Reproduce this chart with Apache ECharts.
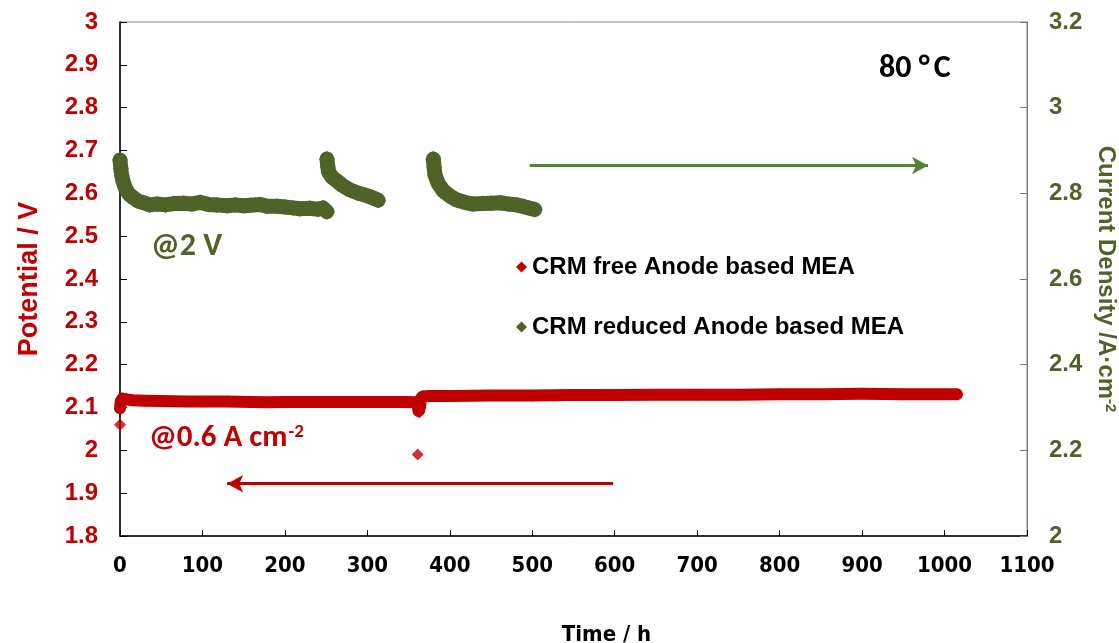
<!DOCTYPE html>
<html>
<head>
<meta charset="utf-8">
<script src="https://cdn.jsdelivr.net/npm/echarts@6/dist/echarts.min.js"></script>
<style>
html,body{margin:0;padding:0;background:#fff;}
#chart{width:1119px;height:643px;}
</style>
</head>
<body>
<div id="chart"></div>
<script>
// ---- data ----
const seriesNames = ['CRM free Anode based MEA', 'CRM reduced Anode based MEA'];

// CRM free anode: potential (V) vs time (h), left axis
const freeTime = [0, 1, 3, 8, 15, 30, 50, 80, 100, 130, 160, 180, 200, 230, 260, 290, 320, 345, 358, 361, 362, 363, 364, 365, 367, 375, 400, 450, 500, 550, 600, 650, 700, 750, 800, 850, 900, 950, 1000, 1015];
const freePotential = [2.098, 2.115, 2.121, 2.119, 2.117, 2.116, 2.115, 2.114, 2.114, 2.114, 2.113, 2.112, 2.113, 2.113, 2.113, 2.113, 2.113, 2.113, 2.112, 2.106, 2.092, 2.089, 2.102, 2.121, 2.126, 2.127, 2.127, 2.128, 2.128, 2.129, 2.129, 2.130, 2.130, 2.130, 2.131, 2.131, 2.132, 2.131, 2.131, 2.131];
// isolated outlier points of the CRM free series
const freeOutTime = [0, 361];
const freeOutPotential = [2.06, 1.99];

// CRM reduced anode: current density (A/cm2) vs time (h), right axis; null = gap
const redTime = [0, 1, 2, 4, 7, 11, 16, 22, 30, 36, 45, 55, 65, 77, 87, 97, 107, 117, 130, 140, 150, 158, 170, 178, 190, 200, 210, 218, 230, 240, 246, 251,
  282,
  251, 252, 253, 257, 263, 270, 279, 288, 299, 306, 313,
  346,
  380, 381, 382, 386, 392, 400, 408, 418, 428, 440, 450, 461, 471, 481, 490, 497, 503];
const redCurrent = [2.878, 2.858, 2.842, 2.826, 2.810, 2.798, 2.790, 2.782, 2.777, 2.773, 2.775, 2.773, 2.776, 2.777, 2.775, 2.779, 2.774, 2.773, 2.771, 2.773, 2.771, 2.772, 2.774, 2.770, 2.770, 2.768, 2.766, 2.764, 2.765, 2.763, 2.766, 2.757,
  null,
  2.880, 2.862, 2.850, 2.838, 2.829, 2.818, 2.808, 2.801, 2.795, 2.790, 2.784,
  null,
  2.880, 2.860, 2.843, 2.823, 2.806, 2.794, 2.785, 2.779, 2.775, 2.776, 2.777, 2.778, 2.775, 2.773, 2.769, 2.765, 2.762];

// arrows (data coordinates)
const greenArrow = [[497, 2.865], [980, 2.865]];
const redArrow = [[598, 1.922], [130, 1.922]];

// axes
const xAxisRange = [0, 1100, 100];
const leftAxisRange = [1.8, 3, 0.1];
const rightAxisRange = [2, 3.2, 0.2];

// ---- chart ----
const RED = '#C00000';
const GREEN = '#4F6228';
const ARROW_GREEN = '#548235';
const pair = (xs, ys) => xs.map((x, i) => [x, ys[i]]);
const fmt = v => String(Math.round(v * 10) / 10);
const arial = "'Liberation Sans', Arial, sans-serif";
const narrow = "'DejaVu Sans Condensed', 'Liberation Sans Narrow', 'Arial Narrow', sans-serif";
const calibri = "Carlito, Lato, 'Open Sans', sans-serif";

const chart = echarts.init(document.getElementById('chart'));
chart.setOption({
  animation: false,
  backgroundColor: '#fff',
  grid: { left: 120, right: 92, top: 22, bottom: 107, show: true, borderColor: '#888', borderWidth: 1, outerBoundsMode: 'none', containLabel: false },
  legend: {
    orient: 'vertical',
    left: 511, top: 250,
    itemGap: 36,
    icon: 'diamond',
    itemWidth: 11, itemHeight: 11,
    data: seriesNames,
    textStyle: { fontFamily: arial, fontWeight: 'bold', fontSize: 24, color: '#000' }
  },
  xAxis: {
    type: 'value',
    min: xAxisRange[0], max: xAxisRange[1], interval: xAxisRange[2],
    name: 'Time / h', nameLocation: 'middle', nameGap: 88,
    nameTextStyle: { fontFamily: narrow, fontWeight: 'bold', fontSize: 22, color: '#000', padding: [0, 0, 0, 66] },
    axisLine: { show: true, lineStyle: { color: '#000', width: 1.5 } },
    axisTick: { show: true, inside: true, length: 6, lineStyle: { color: '#000' } },
    axisLabel: { margin: 19, formatter: v => String(v), fontFamily: narrow, fontWeight: 'bold', fontSize: 22, color: '#000' },
    splitLine: { show: false }
  },
  yAxis: [{
    type: 'value', position: 'left',
    min: leftAxisRange[0], max: leftAxisRange[1], interval: leftAxisRange[2],
    name: 'Potential / V', nameLocation: 'middle', nameGap: 77,
    nameTextStyle: { fontFamily: arial, fontWeight: 'bold', fontSize: 27, color: RED },
    axisLine: { show: true, lineStyle: { color: '#000', width: 1.5 } },
    axisTick: { show: true, inside: true, length: 7, lineStyle: { color: '#000' } },
    axisLabel: { margin: 22, formatter: fmt, fontFamily: arial, fontWeight: 'bold', fontSize: 24, color: RED },
    splitLine: { show: false }
  }, {
    type: 'value', position: 'right',
    min: rightAxisRange[0], max: rightAxisRange[1], interval: rightAxisRange[2],
    name: '{a|Current Density /A·cm}{s|-2}', nameLocation: 'middle', nameGap: 58, nameRotate: -90,
    nameTextStyle: {
      rich: {
        a: { fontFamily: arial, fontWeight: 'bold', fontSize: 24, color: GREEN },
        s: { fontFamily: arial, fontWeight: 'bold', fontSize: 15, color: GREEN, verticalAlign: 'top', padding: [0, 0, 10, 0] }
      }
    },
    axisLine: { show: true, lineStyle: { color: '#777', width: 1 } },
    axisTick: { show: true, inside: true, length: 7, lineStyle: { color: '#777' } },
    axisLabel: { margin: 22, formatter: fmt, fontFamily: arial, fontWeight: 'bold', fontSize: 24, color: GREEN },
    splitLine: { show: false }
  }],
  series: [{
    name: seriesNames[0], type: 'line', yAxisIndex: 0,
    data: pair(freeTime, freePotential),
    symbol: 'diamond', symbolSize: 12, showAllSymbol: true,
    itemStyle: { color: RED },
    lineStyle: { color: RED, width: 12, join: 'round', cap: 'round' },
    markLine: {
      silent: true, symbol: ['none', 'arrow'], symbolSize: [13, 16],
      label: { show: false },
      lineStyle: { color: RED, width: 3, type: 'solid' },
      data: [[{ coord: redArrow[0] }, { coord: redArrow[1] }]]
    },
    z: 3
  }, {
    name: seriesNames[0], type: 'scatter', yAxisIndex: 0,
    data: pair(freeOutTime, freeOutPotential),
    symbol: 'diamond', symbolSize: 12,
    itemStyle: { color: RED }
  }, {
    name: seriesNames[1], type: 'line', yAxisIndex: 1,
    data: pair(redTime, redCurrent),
    connectNulls: false,
    symbol: 'diamond', symbolSize: 16, showAllSymbol: true,
    itemStyle: { color: GREEN },
    lineStyle: { color: GREEN, width: 15, join: 'round', cap: 'round' },
    markLine: {
      silent: true, symbol: ['none', 'arrow'], symbolSize: [13, 16],
      label: { show: false },
      lineStyle: { color: ARROW_GREEN, width: 3, type: 'solid' },
      data: [[{ coord: greenArrow[0] }, { coord: greenArrow[1] }]]
    },
    z: 2
  }],
  graphic: [{
    type: 'text', left: 879, top: 53,
    style: { text: '80 °\u200AC', fontFamily: calibri, fontWeight: 'bold', fontSize: 32, fill: '#000' }
  }, {
    type: 'text', left: 151, top: 231,
    style: { text: '@2 V', fontFamily: calibri, fontWeight: 'bold', fontSize: 32, fill: GREEN }
  }, {
    type: 'text', left: 149, top: 423,
    style: {
      text: '{a|@0.6 A cm}{s|-2}',
      rich: {
        a: { fontFamily: calibri, fontWeight: 'bold', fontSize: 31, fill: RED, color: RED },
        s: { fontFamily: calibri, fontWeight: 'bold', fontSize: 19, fill: RED, color: RED, verticalAlign: 'top', padding: [0, 0, 12, 1] }
      }
    }
  }]
});
</script>
</body>
</html>
